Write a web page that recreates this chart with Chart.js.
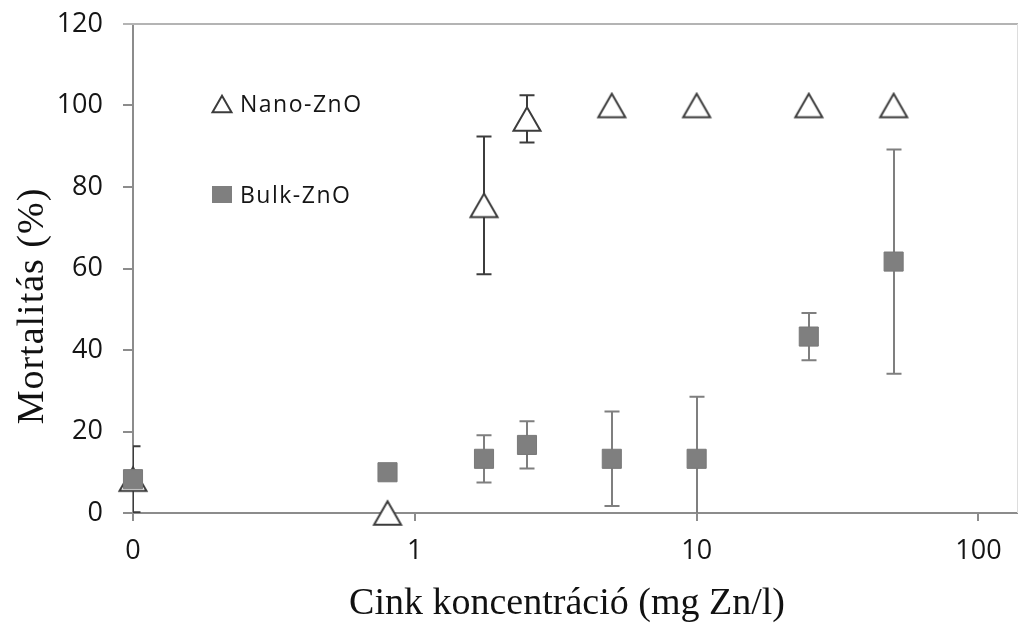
<!DOCTYPE html>
<html>
<head>
<meta charset="utf-8">
<script src="https://cdn.jsdelivr.net/npm/chart.js@4.4.1/dist/chart.umd.min.js"></script>
<style>
  html, body { margin: 0; padding: 0; background: #ffffff; }
  #wrap { width: 1018px; height: 623px; }
</style>
</head>
<body>
<div id="wrap"><canvas id="chart" width="1018" height="623"></canvas></div>
<script>
// Zinc concentration (mg Zn/l) and mortality (%) with standard deviations
const concentrations = [0.1, 0.8, 1.76, 2.5, 5, 10, 25, 50];
const nanoMortality  = [8.3, 0, 75.5, 96.7, 100, 100, 100, 100];
const nanoError      = [8.1, 0, 16.9, 5.8, 0, 0, 0, 0];
const bulkMortality  = [8.3, 10, 13.3, 16.7, 13.3, 13.3, 43.3, 61.7];
const bulkError      = [0, 0, 5.8, 5.8, 11.6, 15.2, 5.8, 27.5];

const xTickValues = [0.1, 1, 10, 100];
const xTickLabels = ['0', '1', '10', '100'];
const yTickValues = [0, 20, 40, 60, 80, 100, 120];
const yTickLabels = ['0', '20', '40', '60', '80', '100', '120'];

const seriesNames = ['Nano-ZnO', 'Bulk-ZnO'];
const xTitle = 'Cink koncentráció (mg Zn/l)';
const yTitle = 'Mortalitás (%)';

const AXIS = '#8c8c8c';
const TEXT = '#151515';
const NANO_STROKE = '#3c3c3c';
const BULK_FILL = '#7f7f7f';

// Open triangle marker, centred on its bounding box
function makeTriangle(w, lw, stroke) {
  const h = w * Math.sqrt(3) / 2;
  const c = document.createElement('canvas');
  c.width = Math.ceil(w + lw * 2 + 1) & ~1;
  c.height = Math.ceil(h + lw * 2 + 1) & ~1;
  const g = c.getContext('2d');
  const cx = c.width / 2, cy = c.height / 2;
  g.beginPath();
  g.moveTo(cx, cy - h / 2);
  g.lineTo(cx + w / 2, cy + h / 2);
  g.lineTo(cx - w / 2, cy + h / 2);
  g.closePath();
  g.fillStyle = '#ffffff';
  g.fill();
  g.lineWidth = lw;
  g.lineJoin = 'miter';
  g.strokeStyle = stroke;
  g.stroke();
  return c;
}
const triangleMarker = makeTriangle(27, 2, NANO_STROKE);
const triangleLegend = makeTriangle(19, 2, NANO_STROKE);

// Vertical error bars with caps, drawn underneath the markers
const errorBars = {
  id: 'errorBars',
  beforeDatasetsDraw(chart) {
    const { ctx, chartArea: a, scales: { x, y } } = chart;
    ctx.save();
    ctx.beginPath();
    ctx.rect(a.left, a.top, a.right - a.left, a.bottom - a.top);
    ctx.clip();
    chart.data.datasets.forEach(ds => {
      ds.data.forEach((p, i) => {
        const e = ds.errors[i];
        if (!e) return;
        const px = Math.round(x.getPixelForValue(p.x));
        const top = y.getPixelForValue(p.y + e);
        const bot = y.getPixelForValue(p.y - e);
        ctx.strokeStyle = ds.errorColor;
        ctx.lineWidth = 2;
        ctx.beginPath();
        ctx.moveTo(px, top); ctx.lineTo(px, bot);
        ctx.moveTo(px - 7.5, top); ctx.lineTo(px + 7.5, top);
        ctx.moveTo(px - 7.5, bot); ctx.lineTo(px + 7.5, bot);
        ctx.stroke();
      });
    });
    ctx.restore();
  }
};

// Plot frame, axis titles and the in-plot legend
const decorations = {
  id: 'decorations',
  beforeDatasetsDraw(chart) {
    const { ctx, chartArea: a } = chart;
    ctx.save();
    ctx.strokeStyle = '#b4b4b4';
    ctx.lineWidth = 2;
    ctx.beginPath();
    ctx.moveTo(a.left - 10, a.top);
    ctx.lineTo(a.right + 1, a.top);
    ctx.stroke();
    ctx.strokeStyle = '#dddddd';
    ctx.lineWidth = 1;
    ctx.beginPath();
    ctx.moveTo(a.right + 0.5, a.top);
    ctx.lineTo(a.right + 0.5, a.bottom);
    ctx.stroke();
    ctx.restore();
  },
  afterDraw(chart) {
    const { ctx, chartArea: a } = chart;
    ctx.save();
    ctx.fillStyle = '#111111';
    ctx.font = '38px "Liberation Serif"';
    ctx.textAlign = 'center';
    ctx.textBaseline = 'alphabetic';
    ctx.fillText(xTitle, a.left + 434, 614);
    ctx.translate(43, a.top + 282);
    ctx.rotate(-Math.PI / 2);
    ctx.letterSpacing = '1px';
    ctx.fillText(yTitle, 0, 0);
    ctx.restore();

    ctx.save();
    const lx = a.left + 89, ly1 = a.top + 80, ly2 = a.top + 171;
    ctx.drawImage(triangleLegend, lx - triangleLegend.width / 2, ly1 - triangleLegend.height / 2);
    ctx.fillStyle = BULK_FILL;
    ctx.fillRect(lx - 10, ly2 - 9, 20, 17);
    ctx.fillStyle = TEXT;
    ctx.font = '23px "Open Sans"';
    ctx.textAlign = 'left';
    ctx.textBaseline = 'middle';
    ctx.letterSpacing = '1.5px';
    ctx.fillText(seriesNames[0], lx + 18, ly1 + 1);
    ctx.fillText(seriesNames[1], lx + 18, ly2 + 1);
    ctx.restore();
  }
};

// Axis boxes have fixed sizes so the plot area sits where it should
function zeroPadding(s) {
  s.paddingLeft = 0; s.paddingRight = 0; s.paddingTop = 0; s.paddingBottom = 0;
}

const tickFont = { family: 'Open Sans', size: 27 };

new Chart(document.getElementById('chart'), {
  type: 'scatter',
  data: {
    datasets: [
      {
        label: seriesNames[0],
        data: concentrations.map((x, i) => ({ x, y: nanoMortality[i] })),
        errors: nanoError,
        errorColor: NANO_STROKE,
        pointStyle: triangleMarker,
        pointRadius: 14,
        showLine: false,
        clip: false,
        order: 2
      },
      {
        label: seriesNames[1],
        data: concentrations.map((x, i) => ({ x, y: bulkMortality[i] })),
        errors: bulkError,
        errorColor: BULK_FILL,
        pointStyle: 'rect',
        pointRadius: 13.5,
        backgroundColor: BULK_FILL,
        borderColor: '#797979',
        borderWidth: 1,
        showLine: false,
        clip: false,
        order: 1
      }
    ]
  },
  options: {
    responsive: false,
    devicePixelRatio: 1,
    animation: false,
    events: [],
    layout: { autoPadding: false, padding: { top: 24, right: 1, left: 0, bottom: 0 } },
    plugins: { legend: { display: false }, tooltip: { enabled: false } },
    scales: {
      x: {
        type: 'logarithmic',
        min: 0.1,
        max: 137,
        afterBuildTicks: s => { s.ticks = xTickValues.map(v => ({ value: v })); },
        afterFit: s => { s.height = 110; zeroPadding(s); },
        ticks: {
          callback: (v, i) => xTickLabels[i],
          font: tickFont,
          color: TEXT,
          padding: 14,
          maxRotation: 0,
          autoSkip: false
        },
        grid: { display: true, drawOnChartArea: false, drawTicks: true, tickLength: 8, color: AXIS, lineWidth: 2 },
        border: { display: true, color: AXIS, width: 2 }
      },
      y: {
        min: 0,
        max: 120,
        afterBuildTicks: s => { s.ticks = yTickValues.map(v => ({ value: v })); },
        afterFit: s => { s.width = 133; zeroPadding(s); },
        ticks: {
          callback: (v, i) => yTickLabels[i],
          font: tickFont,
          color: TEXT,
          padding: 20
        },
        grid: { display: true, drawOnChartArea: false, drawTicks: true, tickLength: 10, color: AXIS, lineWidth: 2 },
        border: { display: true, color: AXIS, width: 2 }
      }
    }
  },
  plugins: [errorBars, decorations]
});
</script>
</body>
</html>
